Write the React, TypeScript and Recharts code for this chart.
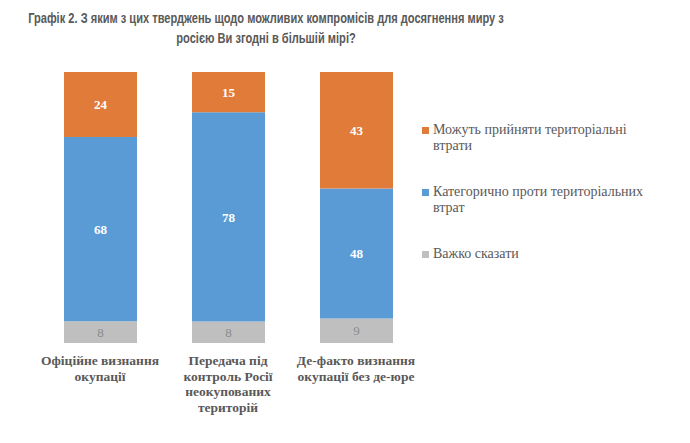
import React from "react";
import { BarChart, Bar, XAxis, YAxis, LabelList } from "recharts";

const categories = [
  "Офіційне визнання\nокупації",
  "Передача під\nконтроль Росії\nнеокупованих\nтериторій",
  "Де-факто визнання\nокупації без де-юре",
];
const hardToSay = [8, 8, 9];
const against = [68, 78, 48];
const accept = [24, 15, 43];

const seriesNames = {
  hard: "Важко сказати",
  against: "Категорично проти територіальних втрат",
  accept: "Можуть прийняти територіальні втрати",
};

const legendItems = [
  { lines: ["Можуть прийняти територіальні", "втрати"], color: "#E07B3A" },
  { lines: ["Категорично проти територіальних", "втрат"], color: "#5B9BD5" },
  { lines: ["Важко сказати"], color: "#BFBFBF" },
];

const data = categories.map((name, i) => ({
  name,
  hard: hardToSay[i],
  against: against[i],
  accept: accept[i],
}));

const serif = "'Liberation Serif', 'Times New Roman', serif";
const textGray = "#595959";

const CategoryTick = (props: any) => {
  const { x, y, payload } = props;
  const lines = String(payload.value).split("\n");
  return (
    <text
      x={x}
      y={y}
      textAnchor="middle"
      fontFamily={serif}
      fontWeight="bold"
      fontSize={13.5}
      fill={textGray}
    >
      {lines.map((l, i) => (
        <tspan key={i} x={x} dy={i === 0 ? 14 : 15.5}>
          {l}
        </tspan>
      ))}
    </text>
  );
};

const LegendBox = () => (
  <div
    style={{
      position: "absolute",
      left: 422,
      top: 122,
      width: 268,
      fontFamily: serif,
      fontSize: 14,
      color: textGray,
      lineHeight: "16px",
    }}
  >
    {legendItems.map((it, i) => (
      <div key={i} style={{ display: "flex", alignItems: "flex-start", marginBottom: i < 2 ? 30 : 0 }}>
        <span
          style={{
            display: "inline-block",
            width: 7,
            height: 7,
            background: it.color,
            marginTop: 5,
            marginRight: 4,
          }}
        />
        <span>
          {it.lines.map((l, j) => (
            <div key={j} style={{ whiteSpace: "nowrap" }}>{l}</div>
          ))}
        </span>
      </div>
    ))}
  </div>
);

const titleLines = [
  "Графік 2. З яким з цих тверджень щодо можливих компромісів для досягнення миру з",
  "росією Ви згодні в більшій мірі?",
];

export default function App() {
  return (
    <div style={{ position: "absolute", left: 0, top: 0, width: 690, height: 443, background: "#fff", overflow: "hidden" }}>
      <div
        style={{
          position: "absolute",
          left: -84,
          top: 8,
          width: 700,
          textAlign: "center",
          fontFamily: "'Liberation Sans Narrow', 'Arial Narrow', 'Liberation Sans', sans-serif",
          fontWeight: "bold",
          fontSize: 15.5,
          lineHeight: "20px",
          color: textGray,
          whiteSpace: "nowrap",
        }}
      >
        {titleLines.map((l, i) => (
          <div key={i} style={{ transform: "scaleX(0.715)", transformOrigin: "center" }}>
            {l}
          </div>
        ))}
      </div>
      <BarChart
        width={690}
        height={443}
        data={data}
        margin={{ top: 72, right: 270, bottom: 70, left: 36 }}
        barSize={73}
        stackOffset="expand"
      >
        <XAxis dataKey="name" axisLine={false} tickLine={false} tick={<CategoryTick />} interval={0} />
        <YAxis hide domain={[0, 1]} />
        <Bar dataKey="hard" name={seriesNames.hard} stackId="a" fill="#BFBFBF" isAnimationActive={false}>
          <LabelList dataKey="hard" position="center" fill="#8C8C8C" fontFamily={serif} fontSize={13} />
        </Bar>
        <Bar dataKey="against" name={seriesNames.against} stackId="a" fill="#5B9BD5" isAnimationActive={false}>
          <LabelList
            dataKey="against"
            position="center"
            fill="#ffffff"
            fontFamily={serif}
            fontWeight="bold"
            fontSize={13}
          />
        </Bar>
        <Bar dataKey="accept" name={seriesNames.accept} stackId="a" fill="#E07B3A" isAnimationActive={false}>
          <LabelList
            dataKey="accept"
            position="center"
            fill="#ffffff"
            fontFamily={serif}
            fontWeight="bold"
            fontSize={13}
          />
        </Bar>
      </BarChart>
      <LegendBox />
    </div>
  );
}
